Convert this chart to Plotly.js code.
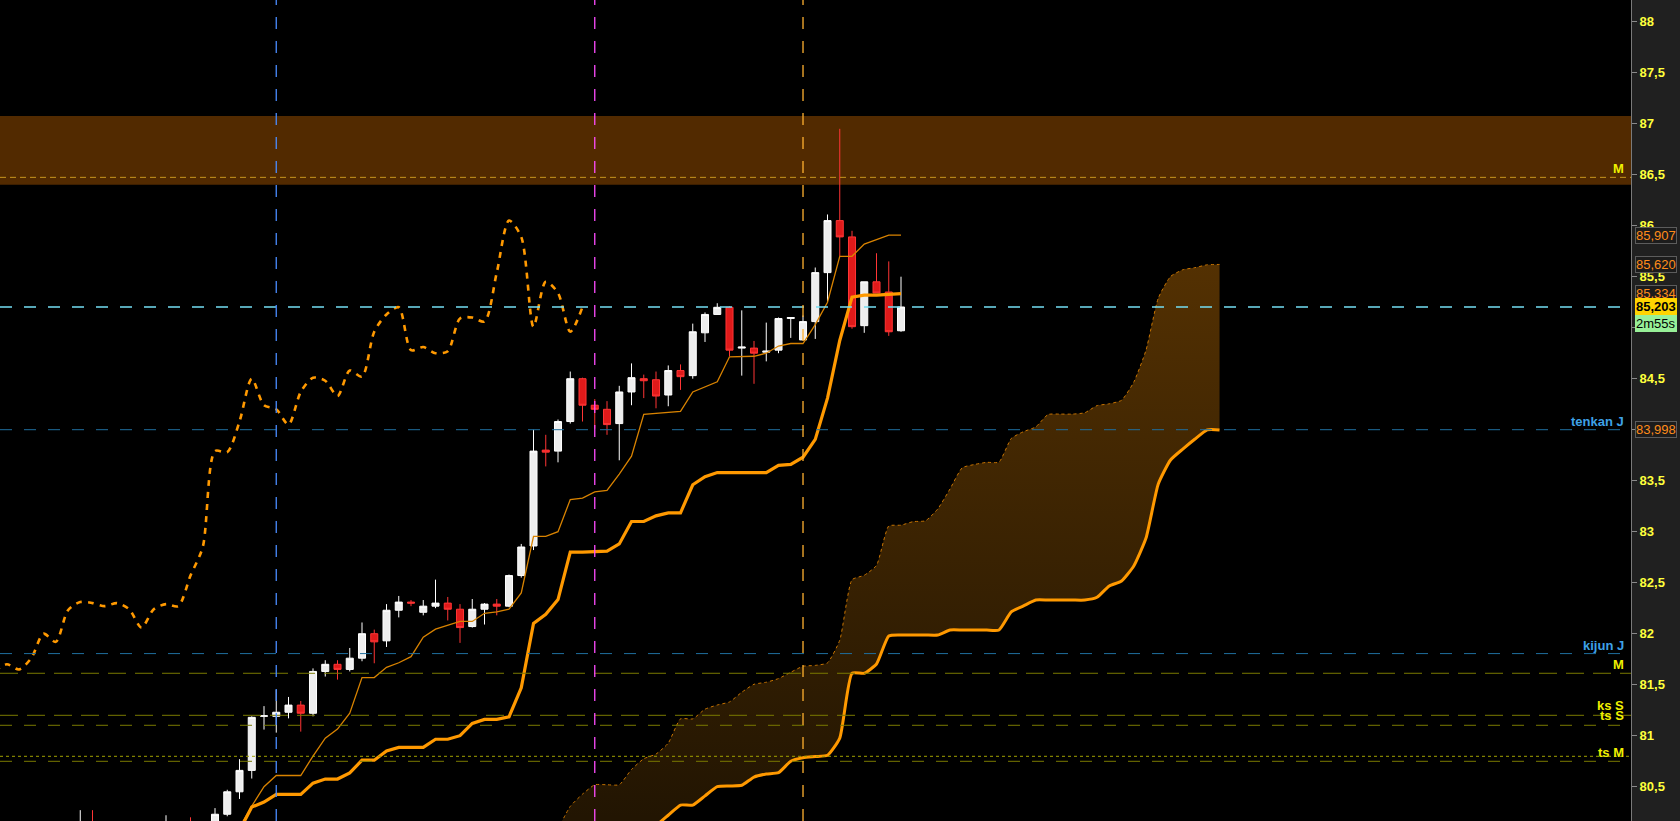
<!DOCTYPE html>
<html><head><meta charset="utf-8">
<script src="https://cdn.plot.ly/plotly-3.0.1.min.js"></script>
<style>html,body{margin:0;padding:0;background:#000;overflow:hidden}#chart{width:1680px;height:821px}</style>
</head><body><div id="chart"></div>
<script>
function range(a, b) { const r = []; for (let i = a; i <= b; i++) r.push(i); return r; }

// ---- candles (bar index on x) ----
const candleIdx = [6, 7, 13, 15].concat(range(17, 73));
const candleOpen = [79.90, 80.10, 79.90, 80.10, 79.95, 80.23, 80.45, 80.66, 81.19, 81.19, 81.23, 81.30, 81.22, 81.63, 81.70, 81.65, 81.76, 82.00, 81.93, 82.23, 82.31, 82.21, 82.27, 82.30, 82.24, 82.07, 82.24, 82.29, 82.27, 82.57, 82.86, 83.80, 83.79, 84.08, 84.50, 84.24, 84.20, 84.06, 84.37, 84.50, 84.49, 84.34, 84.58, 84.53, 84.95, 85.13, 85.20, 84.80, 84.80, 84.76, 84.78, 85.09, 84.88, 85.06, 85.54, 86.05, 85.89, 85.02, 85.45, 85.35, 84.97];
const candleHigh = [80.27, 80.27, 80.22, 80.20, 80.29, 80.47, 80.77, 81.19, 81.29, 81.45, 81.38, 81.34, 81.66, 81.74, 81.74, 81.86, 82.11, 82.04, 82.29, 82.37, 82.33, 82.33, 82.53, 82.36, 82.29, 82.34, 82.30, 82.34, 82.58, 82.88, 84.00, 83.95, 84.10, 84.57, 84.51, 84.30, 84.28, 84.43, 84.65, 84.54, 84.57, 84.63, 84.64, 85.04, 85.15, 85.24, 85.21, 85.17, 84.87, 85.05, 85.10, 85.10, 85.12, 85.59, 86.11, 86.95, 85.95, 85.45, 85.73, 85.65, 85.50];
const candleLow = [79.80, 79.85, 79.80, 79.90, 79.90, 80.21, 80.38, 80.58, 81.06, 81.03, 81.17, 81.04, 81.19, 81.58, 81.55, 81.63, 81.73, 81.71, 81.87, 82.16, 82.27, 82.18, 82.25, 82.13, 81.91, 82.06, 82.09, 82.18, 82.26, 82.55, 82.82, 83.64, 83.68, 84.06, 84.08, 84.01, 83.95, 83.70, 84.24, 84.31, 84.21, 84.23, 84.39, 84.50, 84.86, 85.13, 84.72, 84.53, 84.45, 84.67, 84.75, 84.90, 84.88, 84.89, 85.25, 85.70, 84.99, 84.95, 85.34, 84.92, 84.96];
const candleClose = [80.10, 79.95, 80.10, 79.95, 80.23, 80.45, 80.66, 81.18, 81.195, 81.23, 81.30, 81.22, 81.63, 81.70, 81.65, 81.76, 82.00, 81.92, 82.23, 82.31, 82.30, 82.27, 82.30, 82.24, 82.06, 82.24, 82.29, 82.27, 82.57, 82.85, 83.79, 83.78, 84.08, 84.50, 84.24, 84.20, 84.05, 84.37, 84.51, 84.48, 84.33, 84.58, 84.52, 84.96, 85.13, 85.20, 84.78, 84.81, 84.75, 84.77, 85.09, 85.10, 85.06, 85.54, 86.05, 85.89, 85.01, 85.45, 85.34, 84.96, 85.203];

// ---- Ichimoku lines ----
const lineIdx = range(19, 73);
const tenkan = [80.10, 80.31, 80.50, 80.61, 80.61, 80.61, 80.80, 80.975, 81.065, 81.22, 81.57, 81.57, 81.67, 81.715, 81.775, 81.965, 82.045, 82.08, 82.12, 82.12, 82.20, 82.215, 82.24, 82.40, 82.955, 82.955, 83.00, 83.315, 83.33, 83.39, 83.405, 83.565, 83.74, 84.15, 84.16, 84.175, 84.18, 84.37, 84.42, 84.47, 84.715, 84.72, 84.72, 84.75, 84.82, 84.845, 84.845, 85.03, 85.25, 85.70, 85.70, 85.82, 85.86, 85.907, 85.907];
const kijun = [80.07, 80.30, 80.35, 80.425, 80.425, 80.425, 80.535, 80.575, 80.575, 80.635, 80.76, 80.76, 80.85, 80.885, 80.885, 80.885, 80.965, 80.965, 81.00, 81.12, 81.16, 81.16, 81.185, 81.47, 82.10, 82.19, 82.335, 82.80, 82.80, 82.805, 82.81, 82.88, 83.10, 83.10, 83.155, 83.185, 83.185, 83.46, 83.54, 83.58, 83.58, 83.58, 83.58, 83.58, 83.65, 83.66, 83.73, 83.905, 84.31, 84.875, 85.30, 85.32, 85.32, 85.33, 85.334];

const cloudIdx = range(45, 99);
const senkouA = [80.085, 80.307, 80.427, 80.519, 80.519, 80.519, 80.669, 80.774, 80.82, 80.927, 81.165, 81.165, 81.26, 81.301, 81.331, 81.426, 81.504, 81.524, 81.56, 81.622, 81.681, 81.689, 81.714, 81.936, 82.529, 82.573, 82.669, 83.056, 83.064, 83.099, 83.107, 83.223, 83.419, 83.627, 83.659, 83.68, 83.682, 83.914, 83.981, 84.027, 84.149, 84.153, 84.153, 84.166, 84.236, 84.254, 84.288, 84.466, 84.78, 85.29, 85.502, 85.568, 85.589, 85.617, 85.62];
const senkouB = [79.85, 79.90, 79.95, 79.95, 79.95, 80.00, 80.00, 80.05, 80.12, 80.22, 80.32, 80.32, 80.41, 80.50, 80.507, 80.514, 80.595, 80.625, 80.637, 80.749, 80.784, 80.796, 80.808, 80.977, 81.612, 81.612, 81.703, 81.978, 81.987, 81.987, 81.987, 81.987, 82.036, 82.036, 82.036, 82.036, 82.036, 82.213, 82.272, 82.33, 82.33, 82.33, 82.33, 82.33, 82.357, 82.468, 82.517, 82.664, 82.938, 83.468, 83.703, 83.81, 83.909, 83.998, 83.998];

const chikouIdx = range(-1, 47);
const chikou = [81.63, 81.70, 81.65, 81.76, 82.00, 81.92, 82.23, 82.31, 82.30, 82.27, 82.30, 82.24, 82.06, 82.24, 82.29, 82.27, 82.57, 82.85, 83.79, 83.78, 84.08, 84.50, 84.24, 84.20, 84.05, 84.37, 84.51, 84.48, 84.33, 84.58, 84.52, 84.96, 85.13, 85.20, 84.78, 84.81, 84.75, 84.77, 85.09, 85.10, 85.06, 85.54, 86.05, 85.89, 85.01, 85.45, 85.34, 84.96, 85.203];

// ---- axis ticks (84 and 85 sit under the value boxes, so their labels stay blank) ----
const tickVals = [80.5, 81, 81.5, 82, 82.5, 83, 83.5, 84, 84.5, 85, 85.5, 86, 86.5, 87, 87.5, 88];
const tickText = ['80,5', '81', '81,5', '82', '82,5', '83', '83,5', '', '84,5', '', '85,5', '86', '86,5', '87', '87,5', '88'];

// ---- levels ----
const zoneLow = 86.402, zoneHigh = 87.076;
const levelNames = ['M', 'tenkan J', 'kijun J', 'M', 'ks S', 'ts S', 'ts', 'ts M'];
const levelValues = [86.474, 84.0, 81.805, 81.612, 81.2, 81.102, 80.798, 80.749];
const markerBars = [22, 48, 65];
const countdown = '2m55s';

const FONT = '"Liberation Sans", Arial, sans-serif';
const fmt = v => v.toFixed(3).replace('.', ',');
const last = a => a[a.length - 1];

const traces = [
  { x: cloudIdx, y: senkouB, type: 'scatter', mode: 'lines', line: { color: '#ff9900', width: 3, shape: 'spline', smoothing: 0.5 }, hoverinfo: 'skip' },
  { x: cloudIdx, y: senkouA, type: 'scatter', mode: 'lines', fill: 'tonexty',
    fillgradient: { type: 'vertical', start: 80.2, stop: 85.7, colorscale: [[0, 'rgb(34,21,2)'], [1, 'rgb(84,49,2)']] },
    line: { color: '#c87400', width: 1, dash: '3px,3px', shape: 'spline', smoothing: 0.5 }, hoverinfo: 'skip' },
  { x: candleIdx, open: candleOpen, high: candleHigh, low: candleLow, close: candleClose, type: 'candlestick',
    increasing: { line: { color: '#ffffff', width: 1 }, fillcolor: '#eeeeee' },
    decreasing: { line: { color: '#ff3535', width: 1 }, fillcolor: '#e01a1a' }, hoverinfo: 'skip' },
  { x: lineIdx, y: tenkan, type: 'scatter', mode: 'lines', line: { color: '#d98300', width: 1.3 }, hoverinfo: 'skip' },
  { x: lineIdx, y: kijun, type: 'scatter', mode: 'lines', line: { color: '#ff9900', width: 3.2 }, hoverinfo: 'skip' },
  { x: chikouIdx, y: chikou, type: 'scatter', mode: 'lines', line: { color: '#ff9900', width: 2.6, dash: '6px,6px', shape: 'spline', smoothing: 0.8 }, hoverinfo: 'skip' }
];

const hline = (v, color, dash, width) => ({ type: 'line', xref: 'paper', x0: 0, x1: 1, yref: 'y', y0: v, y1: v, line: { color, width: width || 1, dash }, layer: 'above' });
const vline = (b, color) => ({ type: 'line', xref: 'x', x0: b, x1: b, yref: 'paper', y0: 0, y1: 1, line: { color, width: 1.3, dash: '12px,12px' }, layer: 'above' });

const shapes = [
  { type: 'rect', xref: 'paper', x0: 0, x1: 1, yref: 'y', y0: zoneLow, y1: zoneHigh, fillcolor: '#522a00', line: { width: 0 }, layer: 'below' },
  hline(levelValues[0], '#c8961e', '6px,4px'),
  hline(last(candleClose), '#74def4', '12px,12px', 1.5),
  hline(levelValues[1], '#1f6e9e', '12px,12px'),
  hline(levelValues[2], '#1f6e9e', '12px,12px'),
  hline(levelValues[3], '#7a7a00', '18px,9px'),
  hline(levelValues[4], '#7a7a00', '18px,9px'),
  hline(levelValues[5], '#7a7a00', '12px,12px'),
  hline(levelValues[6], '#a0a000', '3px,3px'),
  hline(levelValues[7], '#7a7a00', '12px,12px'),
  vline(markerBars[0], '#4a8cff'),
  vline(markerBars[1], '#ff4cff'),
  vline(markerBars[2], '#ffb030')
];

const lab = (v, text, color, shift) => ({ xref: 'paper', x: 1, xanchor: 'right', xshift: -5, yref: 'y', y: v, yanchor: 'middle', yshift: shift,
  text: '<b>' + text + '</b>', showarrow: false, font: { family: FONT, size: 13, color } });
const box = (v, text, color, bg, border, shift, bold) => ({ xref: 'paper', x: 1, xanchor: 'left', xshift: 4, yref: 'y', y: v, yanchor: 'middle', yshift: shift || 0,
  text: bold ? '<b>' + text + '</b>' : text, showarrow: false, font: { family: FONT, size: 13, color }, bgcolor: bg, bordercolor: border, borderwidth: 1, borderpad: 0 });

const annotations = [
  lab(levelValues[0], levelNames[0], '#f0f000', 9),
  lab(levelValues[1], levelNames[1], '#3ea2e8', 8),
  lab(levelValues[2], levelNames[2], '#3ea2e8', 8.5),
  lab(levelValues[3], levelNames[3], '#f0f000', 9),
  lab(levelValues[4], levelNames[4], '#f0f000', 9.5),
  lab(levelValues[5], levelNames[5], '#f0f000', 9.5),
  lab(levelValues[7], levelNames[7], '#f0f000', 8.5),
  box(last(tenkan), fmt(last(tenkan)), '#ff8c1a', '#1c1c1c', '#5c5c5c'),
  box(last(senkouA), fmt(last(senkouA)), '#ff8c1a', '#1c1c1c', '#5c5c5c'),
  box(last(kijun), fmt(last(kijun)), '#ff8c1a', '#1c1c1c', '#5c5c5c'),
  box(last(candleClose), fmt(last(candleClose)), '#000000', '#ffd400', '#ffd400', 0, true),
  box(last(candleClose), countdown, '#000000', '#98f098', '#98f098', -17),
  box(last(senkouB), fmt(last(senkouB)), '#ff8c1a', '#1c1c1c', '#5c5c5c')
];

const layout = {
  width: 1680, height: 821,
  margin: { l: 0, r: 49, t: 0, b: 0, pad: 0 },
  paper_bgcolor: '#202020', plot_bgcolor: '#000000',
  separators: ', ',
  showlegend: false,
  boxgap: 0.18,
  xaxis: { range: [-0.551, 132.59], visible: false, showgrid: false, zeroline: false, rangeslider: { visible: false }, fixedrange: true },
  yaxis: { range: [80.1637, 88.2127], side: 'right', showgrid: false, zeroline: false, tickmode: 'array', tickvals: tickVals, ticktext: tickText,
    ticks: 'outside', ticklen: 5, tickcolor: '#8a8a8a', showline: true, linecolor: '#7a7a7a', linewidth: 1,
    tickfont: { family: FONT, size: 13, color: '#ffff3c', weight: 'bold' }, fixedrange: true },
  shapes, annotations
};

Plotly.newPlot('chart', traces, layout, { staticPlot: true, displayModeBar: false });
</script>
</body></html>
